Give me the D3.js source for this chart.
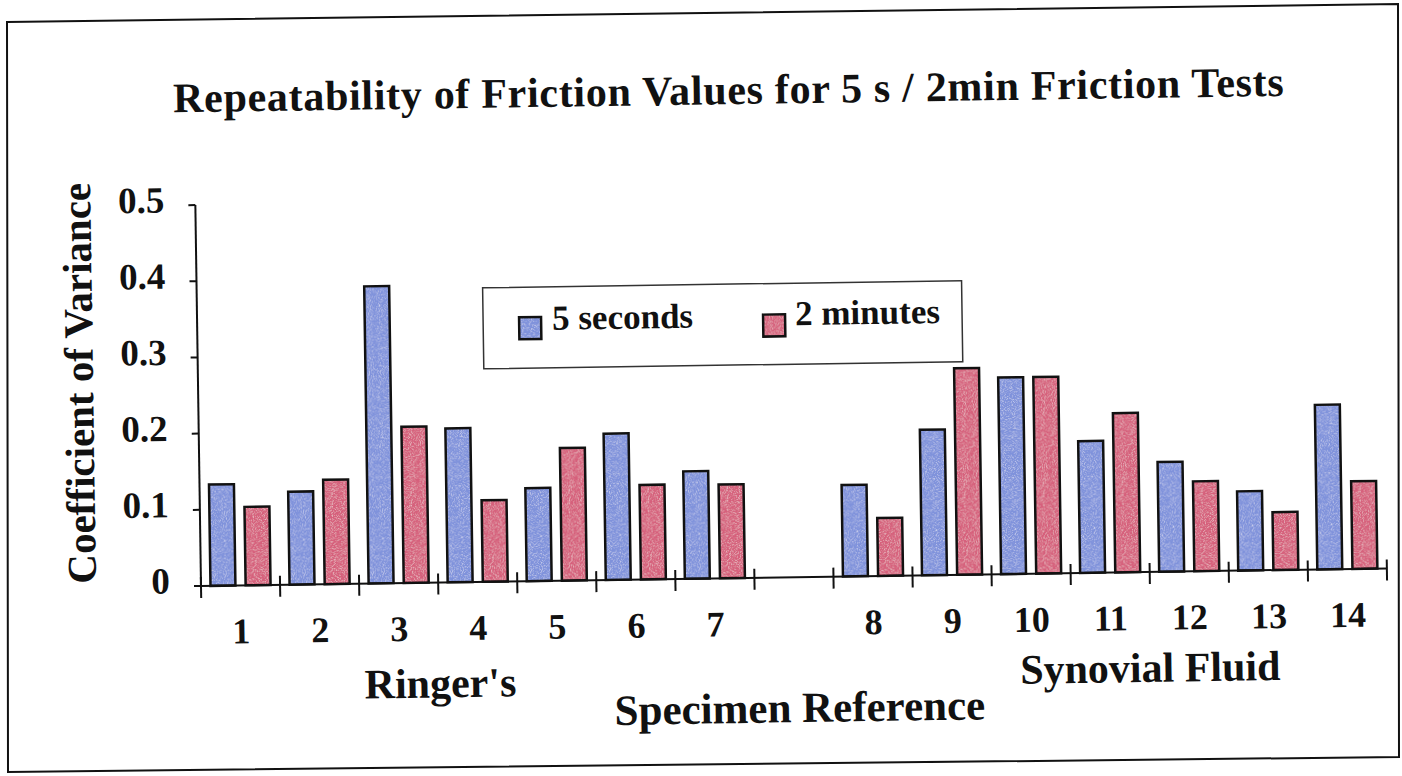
<!DOCTYPE html>
<html><head><meta charset="utf-8">
<script src="https://cdn.jsdelivr.net/npm/d3@7"></script>
<style>
html,body{margin:0;padding:0;background:#fff;}
svg{display:block;}
text{font-family:"Liberation Serif","Times New Roman",serif;font-weight:bold;fill:#111;}
</style>
</head><body>
<svg id="c" width="1402" height="776"></svg>
<script>
// ---- data ----
const categories = ["1","2","3","4","5","6","7","gap","8","9","10","11","12","13","14"];
const xTickLabels = ["1","2","3","4","5","6","7","","8","9","10","11","12","13","14"];
const seriesNames = ["5 seconds","2 minutes"];
const fiveSeconds = [0.133,0.122,0.390,0.202,0.122,0.192,0.141,null,0.120,0.191,0.258,0.173,0.144,0.104,0.216];
const twoMinutes  = [0.103,0.137,0.205,0.107,0.174,0.124,0.123,null,0.076,0.271,0.258,0.209,0.118,0.076,0.115];
const yTicks = [0,0.1,0.2,0.3,0.4,0.5];
const yTickLabels = ["0","0.1","0.2","0.3","0.4","0.5"];
const groupLabels = ["Ringer's","Synovial Fluid"];
const chartTitle = "Repeatability of Friction Values for 5 s / 2min Friction Tests";
const xTitle = "Specimen Reference";
const yTitle = "Coefficient of Variance";
const colors = ["#7f92db","#d6617b"];

// ---- layout ----
const origin = [201,586], angle = -0.85;
const svg = d3.select("#c");

// stipple texture like the printed bars
const defs = svg.append("defs");
const f = defs.append("filter").attr("id","grain").attr("x",0).attr("y",0).attr("width",1).attr("height",1);
f.append("feTurbulence").attr("type","fractalNoise").attr("baseFrequency",1.1).attr("numOctaves",1).attr("seed",4).attr("result","noise");
f.append("feColorMatrix").attr("in","noise").attr("type","matrix")
  .attr("values","0 0 0 0 1  0 0 0 0 1  0 0 0 0 1  1.5 0 0 0 -0.72").attr("result","spk");
f.append("feComposite").attr("in","spk").attr("in2","SourceGraphic").attr("operator","in").attr("result","spk2");
const fm = f.append("feMerge");
fm.append("feMergeNode").attr("in","SourceGraphic");
fm.append("feMergeNode").attr("in","spk2");

// outer frame (scanned page border)
svg.append("path")
  .attr("d","M7,22 L1398,4 L1399,757 L8,772 Z")
  .attr("fill","none").attr("stroke","#111").attr("stroke-width",2);

const g = svg.append("g").attr("transform",`translate(${origin[0]},${origin[1]}) rotate(${angle})`);

const x = d3.scaleBand().domain(categories).range([0,1186]).paddingInner(0).paddingOuter(0);
const xs = d3.scaleBand().domain(seriesNames).range([0,x.bandwidth()]).paddingInner(0.29).paddingOuter(0.27);
const y = d3.scaleLinear().domain([0,0.5]).range([0,-381]);

// bars
const rows = categories.map((c,i)=>({c, vals:[fiveSeconds[i],twoMinutes[i]]}));
const grp = g.selectAll("g.cat").data(rows).join("g").attr("class","cat")
  .attr("transform",d=>`translate(${x(d.c)},0)`);
const barData = d=>d.vals.map((v,k)=>({v,k})).filter(e=>e.v!=null);
grp.selectAll("rect.fill").data(barData).join("rect").attr("class","fill")
  .attr("x",e=>xs(seriesNames[e.k]))
  .attr("width",xs.bandwidth())
  .attr("y",e=>y(e.v))
  .attr("height",e=>y(0)-y(e.v))
  .attr("fill",e=>colors[e.k])
  .attr("filter","url(#grain)");
grp.selectAll("rect.edge").data(barData).join("rect").attr("class","edge")
  .attr("x",e=>xs(seriesNames[e.k]))
  .attr("width",xs.bandwidth())
  .attr("y",e=>y(e.v))
  .attr("height",e=>y(0)-y(e.v))
  .attr("fill","none")
  .attr("stroke","#111").attr("stroke-width",2.5);

// y axis
g.append("line").attr("x1",0).attr("x2",0).attr("y1",y(0)).attr("y2",y(0.5)).attr("stroke","#111").attr("stroke-width",2);
g.selectAll("line.yt").data(yTicks).join("line").attr("class","yt")
  .attr("x1",-7).attr("x2",0).attr("y1",d=>y(d)).attr("y2",d=>y(d)).attr("stroke","#111").attr("stroke-width",2);
g.selectAll("text.yl").data(yTicks).join("text").attr("class","yl")
  .attr("x",-31).attr("y",d=>y(d)+7).attr("text-anchor","end")
  .style("font-size","37px").text((d,i)=>yTickLabels[i]);

// x axis
const [x0,x1] = x.range();
g.append("line").attr("x1",x0).attr("x2",x1).attr("y1",0).attr("y2",0).attr("stroke","#111").attr("stroke-width",2);
const tickPos = categories.map(c=>x(c)).concat([x1]);
g.selectAll("line.xt").data(tickPos).join("line").attr("class","xt")
  .attr("x1",d=>d).attr("x2",d=>d).attr("y1",-9).attr("y2",12).attr("stroke","#111").attr("stroke-width",2);
g.selectAll("text.xl").data(categories).join("text").attr("class","xl")
  .attr("x",d=>x(d)+x.bandwidth()/2).attr("y",58).attr("text-anchor","middle")
  .style("font-size","36px").text((d,i)=>xTickLabels[i]);

// group labels and titles
g.append("text").attr("x",238).attr("y",115).attr("text-anchor","middle").style("font-size","42px").text(groupLabels[0]);
g.append("text").attr("x",948).attr("y",110).attr("text-anchor","middle").style("font-size","42px").text(groupLabels[1]);
g.append("text").attr("x",597).attr("y",145).attr("text-anchor","middle").style("font-size","43px").text(xTitle);
g.append("text").attr("transform","translate(-105,-204.5) rotate(-90)").attr("text-anchor","middle").style("font-size","41px").text(yTitle);
g.append("text").attr("x",535).attr("y",-474).attr("text-anchor","middle").style("font-size","42px").style("letter-spacing","0.7px").text(chartTitle);

// legend
const lg = g.append("g");
lg.append("rect").attr("x",286).attr("y",-294).attr("width",479).attr("height",81)
  .attr("fill","none").attr("stroke","#333").attr("stroke-width",1.5);
const legendPos = [{sx:322,sy:-264,tx:355,ty:-251},{sx:566,sy:-263,tx:598,ty:-252}];
seriesNames.forEach((s,k)=>{
  const p = legendPos[k];
  lg.append("rect").attr("x",p.sx).attr("y",p.sy).attr("width",22).attr("height",22)
    .attr("fill",colors[k]).attr("filter","url(#grain)");
  lg.append("rect").attr("x",p.sx).attr("y",p.sy).attr("width",22).attr("height",22)
    .attr("fill","none").attr("stroke","#111").attr("stroke-width",2.5);
  lg.append("text").attr("x",p.tx).attr("y",p.ty).style("font-size","35px").text(s);
});
</script>
</body></html>
